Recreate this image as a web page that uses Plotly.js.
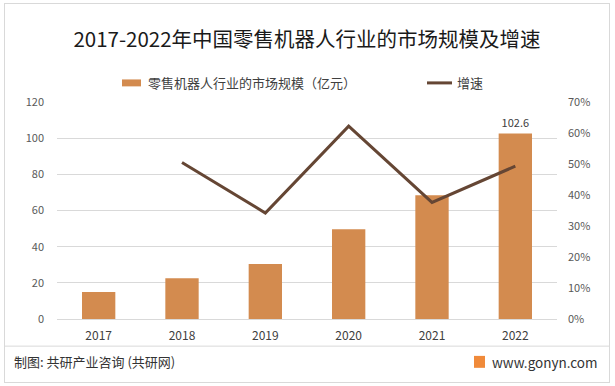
<!DOCTYPE html>
<html>
<head>
<meta charset="utf-8">
<script src="https://cdn.plot.ly/plotly-3.0.1.min.js"></script>
<style>
html,body{margin:0;padding:0;background:#fff;}
#wrap{position:relative;width:615px;height:386px;}
#chart{width:615px;height:386px;}
#frame{position:absolute;left:4px;top:3px;width:604px;height:378px;border:1px solid #d9d9d9;pointer-events:none;}
</style>
</head>
<body>
<div id="wrap">
<div id="chart"></div>
<div id="frame"></div>
</div>
<script>
const years = ['2017','2018','2019','2020','2021','2022'];
const marketSize = [15.0, 22.6, 30.4, 49.7, 68.5, 102.6];
const growthRate = [null, 0.505, 0.342, 0.622, 0.376, 0.493];
const barLabels = ['', '', '', '', '', '102.6'];
const seriesNames = ['零售机器人行业的市场规模（亿元）', '增速'];

const FONT = 'Noto Sans CJK SC, Noto Sans, sans-serif';
const BAR_COLOR = '#D38B4F';
const LINE_COLOR = '#654634';

const traces = [
  {
    type: 'bar',
    name: seriesNames[0],
    x: years,
    y: marketSize,
    width: 0.4,
    marker: {color: BAR_COLOR},
    text: barLabels,
    textposition: 'outside',
    textfont: {family: FONT, size: 11, color: '#404040'},
    cliponaxis: false,
    hoverinfo: 'skip',
    showlegend: false
  },
  {
    type: 'scatter',
    mode: 'lines',
    name: seriesNames[1],
    x: years,
    y: growthRate,
    yaxis: 'y2',
    line: {color: LINE_COLOR, width: 3},
    hoverinfo: 'skip',
    showlegend: false
  }
];

const layout = {
  width: 615,
  height: 386,
  margin: {l: 57, r: 58, t: 102, b: 67},
  paper_bgcolor: '#ffffff',
  plot_bgcolor: '#ffffff',
  font: {family: FONT, color: '#595959', size: 11},
  title: {
    text: '2017-2022年中国零售机器人行业的市场规模及增速',
    font: {family: FONT, size: 20.5, color: '#1a1a1a'},
    x: 0.5, xanchor: 'center', xref: 'paper',
    y: 0.897, yanchor: 'middle', yref: 'container'
  },
  showlegend: false,
  bargap: 0.6,
  xaxis: {
    type: 'category',
    showgrid: false,
    showline: false,
    zeroline: false,
    ticks: '',
    tickfont: {family: FONT, size: 12, color: '#404040'},
    ticklabelstandoff: 8
  },
  yaxis: {
    range: [0, 120],
    dtick: 20,
    showgrid: true,
    gridcolor: '#d9d9d9',
    gridwidth: 1,
    zeroline: true,
    zerolinecolor: '#d9d9d9',
    showline: false,
    ticks: '',
    tickfont: {family: FONT, size: 11, color: '#595959'},
    ticklabelstandoff: 12
  },
  yaxis2: {
    overlaying: 'y',
    side: 'right',
    range: [0, 0.7],
    dtick: 0.1,
    tickformat: '.0%',
    showgrid: false,
    zeroline: false,
    showline: false,
    ticks: '',
    tickfont: {family: FONT, size: 11, color: '#595959'},
    ticklabelstandoff: 10
  },
  shapes: [
    // legend swatches
    {type: 'rect', xref: 'paper', yref: 'paper', x0: 0.13, x1: 0.168, y0: 1.072, y1: 1.104,
     fillcolor: BAR_COLOR, line: {width: 0}},
    {type: 'line', xref: 'paper', yref: 'paper', x0: 0.74, x1: 0.79, y0: 1.088, y1: 1.088,
     line: {color: LINE_COLOR, width: 3}},
    // footer separator
    {type: 'line', xref: 'paper', yref: 'paper', x0: -0.104, x1: 1.104, y0: -0.125, y1: -0.125,
     line: {color: '#d9d9d9', width: 1}},
    // logo
    {type: 'rect', xref: 'paper', yref: 'paper', x0: 0.834, x1: 0.856, y0: -0.17, y1: -0.225,
     fillcolor: '#F08A3A', line: {width: 0}}
  ],
  annotations: [
    {text: seriesNames[0], xref: 'paper', yref: 'paper', x: 0.178, y: 1.088,
     xanchor: 'left', yanchor: 'middle', showarrow: false,
     font: {family: FONT, size: 13, color: '#404040'}},
    {text: seriesNames[1], xref: 'paper', yref: 'paper', x: 0.796, y: 1.088,
     xanchor: 'left', yanchor: 'middle', showarrow: false,
     font: {family: FONT, size: 13, color: '#404040'}},
    {text: '制图: 共研产业咨询 (共研网)', xref: 'paper', yref: 'paper', x: -0.09, y: -0.198,
     xanchor: 'left', yanchor: 'middle', showarrow: false,
     font: {family: FONT, size: 13, color: '#333333'}},
    {text: 'www.gonyn.com', xref: 'paper', yref: 'paper', x: 1.086, y: -0.198,
     xanchor: 'right', yanchor: 'middle', showarrow: false,
     font: {family: FONT, size: 13.5, color: '#333333'}}
  ]
};

Plotly.newPlot('chart', traces, layout, {staticPlot: true, displayModeBar: false});
</script>
</body>
</html>
